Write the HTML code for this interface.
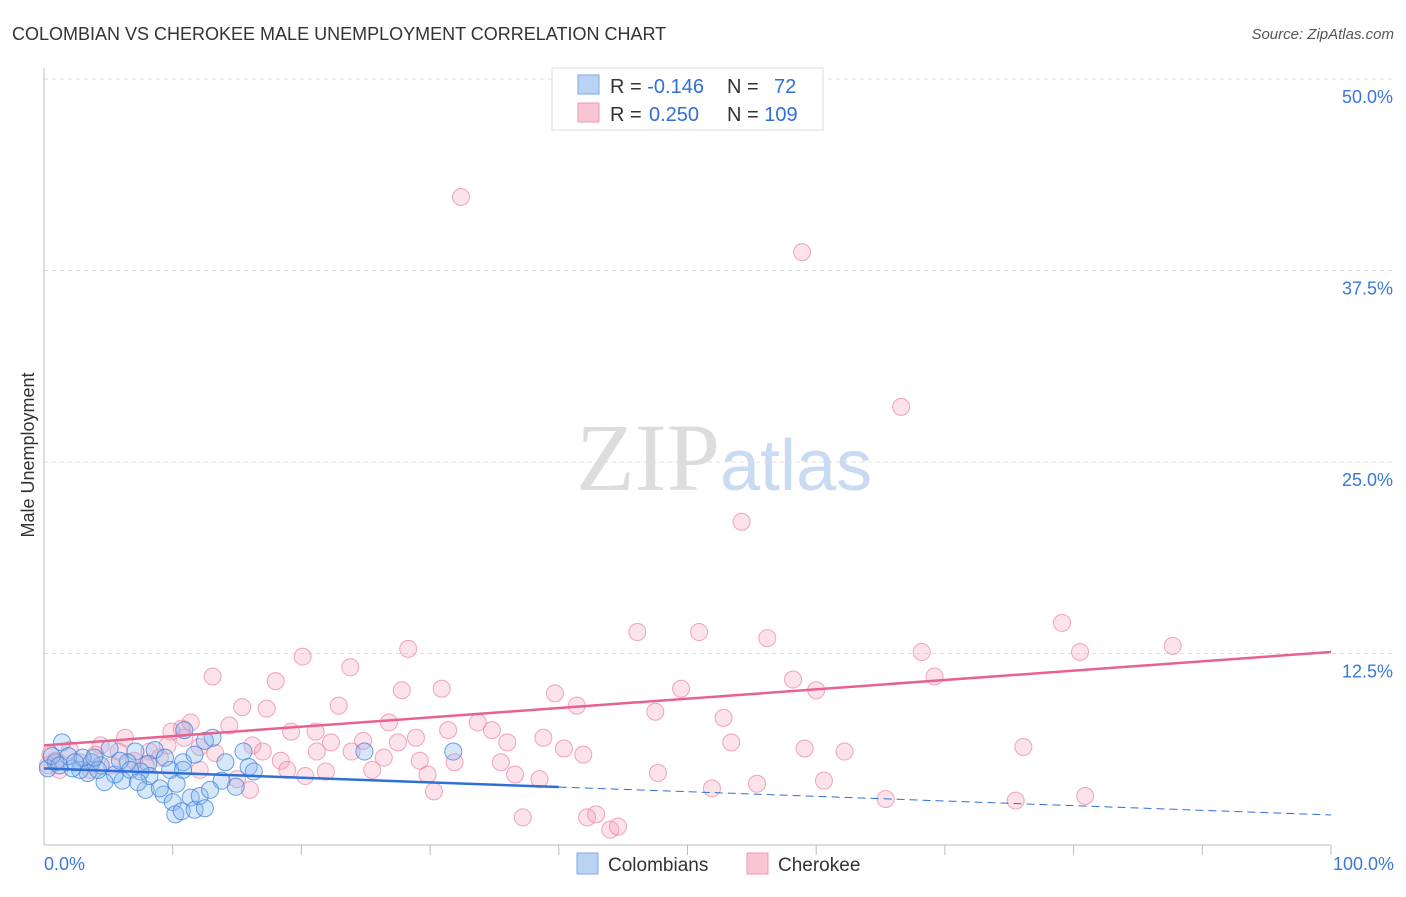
<!DOCTYPE html>
<html><head><meta charset="utf-8"><style>
body{margin:0;background:#fff;font-family:"Liberation Sans",sans-serif}
</style></head><body>
<svg id="c" width="1406" height="892" xmlns="http://www.w3.org/2000/svg">
<text x="12" y="40" font-size="18" fill="#333">COLOMBIAN VS CHEROKEE MALE UNEMPLOYMENT CORRELATION CHART</text>
<text x="1394" y="39" font-size="15" fill="#555" font-style="italic" text-anchor="end">Source: ZipAtlas.com</text>
<text x="34" y="455" font-size="18" fill="#333" text-anchor="middle" transform="rotate(-90 34 455)">Male Unemployment</text>
<text x="720" y="490" font-size="96" fill="#ddd" font-family="Liberation Serif" text-anchor="end">ZIP</text>
<text x="720" y="490" font-size="72" fill="#c9dbf2" text-anchor="start">atlas</text>
<g id="grid"></g><g id="pts"></g><g id="lines"></g>
<g>
<rect x="552" y="68" width="271" height="62" fill="#fff" stroke="#ddd"/>
<rect x="578" y="75" width="21" height="19" fill="#b9d3f5" stroke="#7fa9e6"/>
<rect x="578" y="103" width="21" height="19" fill="#f9c4d3" stroke="#ee9ab3"/>
<text x="610" y="93" font-size="20" fill="#333">R = <tspan fill="#2f6fd6">-0.146</tspan></text>
<text x="727" y="93" font-size="20" fill="#333">N = <tspan x="774" fill="#2f6fd6">72</tspan></text>
<text x="610" y="121" font-size="20" fill="#333">R = <tspan x="649" fill="#2f6fd6">0.250</tspan></text>
<text x="727" y="121" font-size="20" fill="#333">N = <tspan fill="#2f6fd6">109</tspan></text>
</g>
<g>
<rect x="577" y="853" width="21" height="21" fill="#b9d3f5" stroke="#7fa9e6"/>
<text x="608" y="871" font-size="19" fill="#333">Colombians</text>
<rect x="747" y="853" width="21" height="21" fill="#f9c4d3" stroke="#ee9ab3"/>
<text x="778" y="871" font-size="19" fill="#333">Cherokee</text>
</g>
</svg>
<script>
const yTicks=[12.5,25,37.5,50];
const yTickLabels=["12.5%","25.0%","37.5%","50.0%"];
const xTickLabels=["0.0%","100.0%"];
const blueX=[31.8,24.9,15.5,15.9,16.3,14.1,14.9,13.8,13.1,12.5,10.9,10.8,10.3,9.8,9.3,7.9,8.6,8.1,8.2,7.5,7.1,6.5,6.1,5.5,5.1,4.7,4.4,3.7,3.4,2.8,2.2,1.4,1.9,0.9,0.3,0.6,1.2,3.0,4.2,5.9,6.7,10.0,11.4,10.2,10.7,11.7,12.1,12.5,12.9,9.0,10.8,11.7,7.3,9.4,2.4,3.9];
const blueY=[6.1,6.1,6.1,5.1,4.8,5.4,3.8,4.2,7.0,6.8,7.5,5.4,4.0,4.9,3.3,3.6,6.2,5.3,4.5,4.8,6.1,5.4,4.2,4.6,6.3,4.1,5.2,5.4,4.7,4.9,5.0,6.7,5.8,5.4,5.0,5.8,5.2,5.7,4.9,5.5,4.9,2.8,3.1,2.0,2.2,2.3,3.2,2.4,3.6,3.7,4.9,5.9,4.1,5.7,5.4,5.7];
const pinkX=[32.4,58.9,66.6,54.2,46.1,50.9,56.2,79.1,87.7,80.5,68.2,69.2,58.2,60.0,49.5,39.7,41.4,47.5,52.8,53.4,59.1,62.2,76.1,47.7,60.6,55.4,51.9,65.4,75.5,80.9,37.2,42.2,42.9,44.0,44.6,28.3,23.8,20.1,13.1,18.0,27.8,30.9,22.9,15.4,17.3,26.8,14.4,11.4,10.7,9.9,19.2,21.1,31.4,33.7,34.8,28.9,27.5,24.8,22.3,36.0,38.8,40.4,41.9,31.9,29.2,26.4,23.9,21.2,16.2,17.0,18.4,35.5,36.6,38.5,29.8,25.5,21.9,20.3,18.9,30.3,16.0,15.0,6.3,4.4,8.2,9.0,12.1,13.3,12.1,7.0,5.3,2.0,0.5,0.3,1.2,2.8,4.0,7.9,9.6,10.9,0.9,3.6,5.8];
const pinkY=[42.3,38.7,28.6,21.1,13.9,13.9,13.5,14.5,13.0,12.6,12.6,11.0,10.8,10.1,10.2,9.9,9.1,8.7,8.3,6.7,6.3,6.1,6.4,4.7,4.2,4.0,3.7,3.0,2.9,3.2,1.8,1.8,2.0,1.0,1.2,12.8,11.6,12.3,11.0,10.7,10.1,10.2,9.1,9.0,8.9,8.0,7.8,8.0,7.6,7.4,7.4,7.4,7.5,8.0,7.5,7.0,6.7,6.8,6.7,6.7,7.0,6.3,5.9,5.4,5.5,5.7,6.1,6.1,6.5,6.1,5.5,5.4,4.6,4.3,4.6,4.9,4.8,4.5,4.9,3.5,3.6,4.3,7.0,6.5,6.1,5.7,6.4,6.0,4.9,5.5,5.2,6.2,5.9,5.2,4.9,5.4,5.9,5.2,6.5,7.0,5.5,4.9,6.1];
const pinkTrend=[6.5,12.6];
const blueTrend=[5.0,1.96];
const X0=44,X1=1331,Y0=845,Y50=79;
const sx=v=>X0+(X1-X0)*v/100;
const sy=v=>Y0-(Y0-Y50)*v/50;
const NS="http://www.w3.org/2000/svg";
function mk(t,a,p){const e=document.createElementNS(NS,t);for(const k in a)e.setAttribute(k,a[k]);p.appendChild(e);return e;}
const g=document.getElementById('grid');
yTicks.forEach((t,i)=>{
 const l=mk('line',{x1:X0,x2:1394,y1:sy(t),y2:sy(t),stroke:'#ddd','stroke-dasharray':'4,4'},g);
 
 
 const tx=mk('text',{x:1393,y:sy(t)+24,'font-size':18,fill:'#3a78d6','text-anchor':'end'},g);
 tx.textContent=yTickLabels[i];
 
 
});
const ax=mk('line',{x1:X0,x2:X0,y1:68,y2:Y0,stroke:'#bbb'},g);


const bx=mk('line',{x1:X0,x2:X1,y1:Y0,y2:Y0,stroke:'#bbb'},g);


for(let i=1;i<=10;i++){const t=mk('line',{x1:sx(i*10),x2:sx(i*10),y1:Y0,y2:Y0+10,stroke:'#bbb'},g);
 
 }
[[0,'start',44],[100,'end',1394]].forEach((d,i)=>{const t=mk('text',{x:d[2],y:870,'font-size':18,fill:'#3a78d6','text-anchor':d[1]},g);t.textContent=xTickLabels[i];
 
 });
const pg=document.getElementById('pts');
pinkX.forEach((x,i)=>{const c=mk('circle',{cx:sx(x),cy:sy(pinkY[i]),r:8.5,fill:'rgba(245,160,185,0.3)',stroke:'rgba(235,130,160,0.7)','stroke-width':1},pg);
 
 });
blueX.forEach((x,i)=>{const c=mk('circle',{cx:sx(x),cy:sy(blueY[i]),r:8.5,fill:'rgba(140,185,240,0.35)',stroke:'rgba(60,130,220,0.75)','stroke-width':1},pg);
 
 });
const lg=document.getElementById('lines');
const pl=mk('line',{x1:sx(0),y1:sy(pinkTrend[0]),x2:sx(100),y2:sy(pinkTrend[1]),stroke:'#e8628c','stroke-width':2.5},lg);


const bAt=x=>blueTrend[0]+(blueTrend[1]-blueTrend[0])*x/100;
const bl=mk('line',{x1:sx(0),y1:sy(bAt(0)),x2:sx(40),y2:sy(bAt(40)),stroke:'#2f6fd6','stroke-width':2.5},lg);


const bd=mk('line',{x1:sx(40),y1:sy(bAt(40)),x2:sx(100),y2:sy(bAt(100)),stroke:'#2f6fd6','stroke-width':1,'stroke-dasharray':'8,5'},lg);


</script>
</body></html>
